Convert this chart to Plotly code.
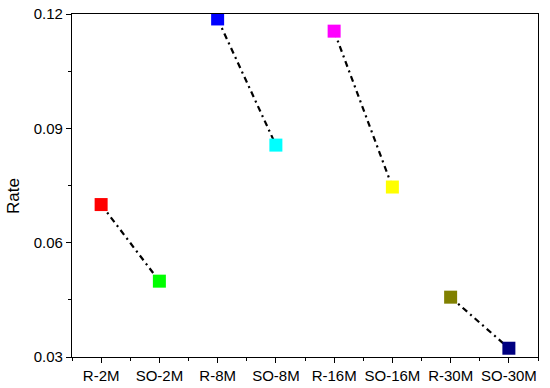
import plotly.graph_objects as go

categories = ["R-2M", "SO-2M", "R-8M", "SO-8M", "R-16M", "SO-16M", "R-30M", "SO-30M"]
rates = [0.0700, 0.0499, 0.1187, 0.0856, 0.1155, 0.0746, 0.0457, 0.0323]
colors = ["#ff0000", "#00ff00", "#0000ff", "#00ffff", "#ff00ff", "#ffff00", "#808000", "#000080"]
pairs = [(0, 1), (2, 3), (4, 5), (6, 7)]
y_ticks = [0.03, 0.06, 0.09, 0.12]

fig = go.Figure()
for a, b in pairs:
    fig.add_trace(go.Scatter(
        x=[a, b], y=[rates[a], rates[b]], mode="lines",
        line=dict(color="black", width=2.2, dash="6px,4px,2px,4px"),
        showlegend=False, hoverinfo="skip"))
fig.add_trace(go.Scatter(
    x=list(range(len(categories))), y=rates, mode="markers",
    marker=dict(symbol="square", size=13, color=colors, line=dict(width=0)),
    showlegend=False))

font = dict(family="Liberation Sans, Arial, sans-serif", size=15, color="black")
fig.update_layout(
    width=550, height=388,
    margin=dict(l=72, r=12, t=14, b=31),
    plot_bgcolor="white", paper_bgcolor="white",
    font=font,
    xaxis=dict(
        range=[-0.5, 7.5], tickmode="array", tickvals=list(range(len(categories))),
        ticktext=categories, ticks="outside", ticklen=5, tickwidth=1.3, tickcolor="black",
        showline=True, linecolor="black", linewidth=1.3, mirror=True, showgrid=False,
        zeroline=False, automargin=False, tickfont=dict(size=15),
        minor=dict(tickmode="linear", tick0=0.5, dtick=1, ticks="outside", ticklen=3,
                   tickwidth=1.3, tickcolor="black", showgrid=False),
    ),
    yaxis=dict(
        range=[0.03, 0.12], tickmode="array", tickvals=y_ticks,
        ticktext=[f"{v:.2f}" for v in y_ticks],
        ticks="outside", ticklen=5, tickwidth=1.3, tickcolor="black",
        showline=True, linecolor="black", linewidth=1.3, mirror=True, showgrid=False,
        zeroline=False, automargin=False, tickfont=dict(size=15),
        minor=dict(tickmode="linear", tick0=0.045, dtick=0.03, ticks="outside", ticklen=3,
                   tickwidth=1.3, tickcolor="black", showgrid=False),
    ),
    annotations=[dict(text="Rate", textangle=-90, xref="paper", yref="paper",
                      x=(14 - 72) / 466, y=(357 - 196) / 343, xanchor="center", yanchor="middle",
                      showarrow=False, font=dict(size=17))],
)
fig.write_html("out.html", config={"displayModeBar": False},
               post_script="document.body.style.margin='0';document.body.style.overflow='hidden';")
